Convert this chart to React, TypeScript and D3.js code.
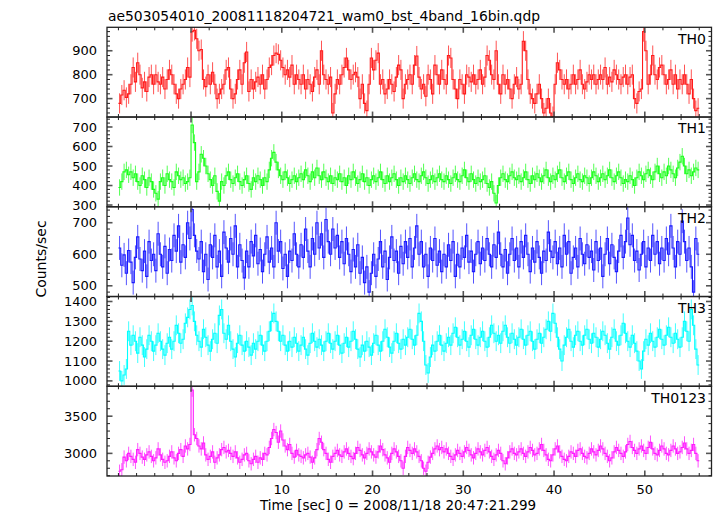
import React from 'react';
import * as d3 from 'd3';

const TITLE = 'ae503054010_20081118204721_wam0_bst_4band_16bin.qdp';
const X_LABEL = 'Time [sec] 0 = 2008/11/18 20:47:21.299';
const Y_LABEL = 'Counts/sec';
const T_START = -8;
const BIN = 0.25;
const X_MAJOR = [0, 10, 20, 30, 40, 50];

const TH0 = [
  680, 715, 735, 705, 720, 760, 830, 770, 850, 800, 745, 770, 730, 790, 800, 760,
  800, 770, 760, 790, 740, 780, 820, 800, 760, 720, 700, 740, 760, 780, 830, 790,
  980, 985, 950, 900, 905, 780, 750, 800, 760, 810, 760, 700, 720, 740, 760, 820,
  830, 740, 700, 720, 780, 820, 760, 850, 895, 730, 780, 740, 770, 790, 760, 800,
  740, 780, 830, 840, 880, 890, 885, 860, 830, 800, 820, 790, 840, 760, 800, 780,
  760, 800, 740, 780, 760, 730, 790, 820, 760, 900, 800, 780, 760, 790, 640, 720,
  780, 760, 800, 830, 870, 820, 780, 800, 810, 790, 700, 760, 680, 650, 760, 870,
  820, 860, 890, 760, 780, 720, 740, 780, 760, 730, 790, 840, 820, 700, 760, 780,
  800, 760, 840, 878, 790, 740, 760, 710, 800, 780, 720, 840, 800, 760, 820, 780,
  760, 880, 870, 780, 740, 700, 780, 760, 720, 800, 790, 770, 800, 760, 780, 820,
  760, 790, 880, 860, 800, 780, 900, 760, 720, 800, 760, 780, 740, 700, 760, 790,
  740, 760, 940, 900, 780, 720, 700, 680, 720, 760, 700, 640, 660, 700, 640, 625,
  760, 850, 820, 780, 760, 780, 740, 760, 800, 760, 780, 820, 760, 740, 770, 800,
  780, 800, 760, 780, 800, 780, 830, 760, 790, 770, 820, 800, 780, 760, 790, 800,
  760, 790, 800, 700, 680, 730, 740, 980, 900, 760, 800, 880, 800, 780, 830, 840,
  800, 760, 780, 820, 760, 800, 740, 780, 760, 800, 760, 720, 780, 700, 650, 660,
];

const TH1 = [
  390, 420, 470, 480, 455, 470, 440, 460, 420, 400, 450, 430, 390, 440, 420, 380,
  360, 330, 420, 440, 400, 460, 430, 420, 390, 470, 450, 430, 440, 410, 420, 440,
  710, 620, 420, 470, 560, 540, 500, 460, 430, 400, 450, 370, 320, 420, 400, 450,
  470, 430, 410, 440, 460, 420, 400, 430, 450, 410, 380, 440, 420, 450, 430, 400,
  440, 420, 480, 540, 570, 520, 480, 450, 430, 470, 440, 410, 430, 450, 420, 440,
  460, 430, 480, 450, 420, 470, 440, 490, 450, 430, 470, 440, 420, 450, 410, 440,
  430, 460, 420, 440, 400, 450, 430, 470, 440, 410, 430, 460, 420, 440, 400, 430,
  450, 420, 440, 470, 430, 410, 450, 420, 440, 460, 430, 400, 440, 420, 450, 430,
  410, 440, 460, 430, 420, 450, 470, 440, 410, 430, 450, 420, 440, 460, 430, 420,
  450, 430, 410, 440, 460, 430, 420, 450, 480, 440, 420, 460, 430, 410, 440, 420,
  430, 450, 410, 390, 420, 360, 310, 400, 440, 460, 430, 420, 450, 470, 440, 430,
  450, 420, 440, 470, 430, 410, 450, 430, 460, 440, 420, 450, 480, 440, 420, 450,
  430, 460, 480, 440, 420, 450, 470, 430, 410, 440, 460, 430, 420, 450, 440, 410,
  440, 470, 450, 420, 440, 460, 430, 450, 480, 440, 420, 450, 470, 440, 410, 430,
  420, 450, 430, 400, 440, 470, 450, 430, 460, 480, 450, 430, 470, 500, 460, 440,
  470, 450, 500, 480, 460, 440, 490, 520, 550, 500, 460, 480, 450, 470, 490, 480,
];

const TH2 = [
  620, 565, 598, 540, 612, 575, 510, 590, 655, 585, 548, 610, 530, 640, 580, 600,
  548, 665, 600, 560, 625, 540, 615, 580, 660, 610, 690, 575, 630, 590, 700, 650,
  742, 660, 610, 585, 640, 545, 600, 520, 630, 590, 660, 560, 610, 530, 670, 620,
  575, 650, 600, 690, 560, 630, 580, 525, 610, 560, 640, 595, 660, 570, 615, 545,
  600, 655, 575, 620, 560, 700, 610, 640, 555, 600, 530, 610, 580, 665, 600, 560,
  630, 590, 680, 610, 560, 650, 600, 700, 620, 665, 590, 710, 640, 600, 680, 620,
  660, 590, 640, 570, 650, 600, 545, 615, 560, 630, 540, 590, 510, 560, 480, 540,
  600, 530, 585, 640, 560, 610, 520, 590, 655, 580, 610, 540, 625, 570, 640, 590,
  650, 560, 620, 690, 600, 640, 560, 600, 530, 620, 580, 650, 565, 610, 545, 600,
  560, 630, 580, 640, 530, 600, 560, 620, 590, 660, 575, 610, 545, 600, 640, 570,
  620, 580, 650, 600, 560, 630, 590, 670, 600, 560, 615, 540, 600, 650, 580, 620,
  560, 640, 590, 660, 600, 545, 620, 575, 640, 590, 540, 610, 580, 670, 610, 590,
  640, 570, 620, 560, 660, 600, 640, 540, 590, 620, 560, 650, 600, 570, 630, 590,
  610, 550, 640, 580, 620, 530, 600, 650, 570, 630, 590, 545, 610, 660, 590, 640,
  715, 630, 660, 580, 610, 550, 600, 640, 560, 620, 580, 660, 600, 640, 570, 620,
  580, 650, 600, 690, 620, 560, 640, 600, 705, 640, 580, 620, 560, 480, 650, 600,
];

const TH3 = [
  1050, 1000, 1030, 1060, 1250, 1180, 1230, 1200, 1140, 1220, 1180, 1120, 1160, 1230, 1200, 1150,
  1180, 1240, 1200, 1160, 1130, 1190, 1220, 1160, 1200, 1280, 1240, 1190, 1210, 1290, 1320, 1360,
  1380, 1300, 1230, 1200, 1170, 1260, 1220, 1180, 1150, 1210, 1240, 1190, 1330, 1360, 1240, 1210,
  1280, 1200, 1160, 1120, 1190, 1230, 1180, 1150, 1200, 1170, 1130, 1190, 1160, 1200, 1230, 1180,
  1150, 1200, 1250, 1300, 1340, 1300, 1250, 1200, 1230, 1180, 1150, 1200, 1170, 1220, 1190, 1150,
  1180, 1220, 1160, 1130, 1190, 1240, 1200, 1170, 1210, 1180, 1150, 1200, 1240, 1190, 1160, 1200,
  1230, 1180, 1140, 1190, 1220, 1170, 1200, 1250, 1210, 1160, 1120, 1180, 1150, 1200, 1170, 1130,
  1190, 1230, 1180, 1150, 1200, 1260, 1220, 1170, 1140, 1200, 1240, 1190, 1160, 1210, 1180, 1220,
  1260, 1210, 1180, 1230, 1340, 1300, 1200, 1080, 1040, 1120, 1180, 1150, 1200, 1230, 1180, 1150,
  1190, 1220, 1180, 1240, 1270, 1220, 1180, 1210, 1250, 1200, 1170, 1230, 1260, 1210, 1180, 1220,
  1250, 1200, 1170, 1220, 1280, 1240, 1200, 1230, 1190, 1250, 1280, 1220, 1190, 1240, 1210, 1180,
  1220, 1260, 1210, 1180, 1230, 1250, 1200, 1160, 1210, 1240, 1190, 1220, 1260, 1300, 1250, 1340,
  1290, 1220, 1160, 1100, 1180, 1220, 1260, 1200, 1170, 1230, 1250, 1200, 1180, 1230, 1260, 1210,
  1190, 1240, 1220, 1170, 1210, 1250, 1230, 1190, 1160, 1220, 1260, 1200, 1180, 1230, 1290, 1240,
  1200, 1170, 1230, 1190, 1150, 1100, 1060, 1150, 1210, 1180, 1240, 1200, 1170, 1220, 1260, 1210,
  1180, 1230, 1270, 1220, 1190, 1240, 1210, 1170, 1220, 1300, 1250, 1200, 1360, 1280, 1160, 1080,
];

const TH0123 = [
  2760, 2780, 2950, 2900, 3000, 2960, 2920, 2880, 3050, 3000, 2950, 2920, 2980, 3020, 2960, 2900,
  2940, 3060, 2980, 2920, 2880, 2900, 2960, 3020, 2940, 2900, 3000, 3050, 2960, 3100, 3060, 3120,
  3850, 3250, 3200, 3100, 3060, 3140, 2980, 2920, 2960, 3020, 2880, 2940, 2980, 3050, 3080, 3020,
  3040, 3000, 2960, 3020, 2940, 2880, 2920, 2980, 3000, 2900, 2860, 2920, 2960, 2880, 2940, 2920,
  3000, 2980, 3080, 3200, 3320, 3280, 3150, 3300, 3180, 3100, 3050, 3120, 3000, 2950, 3040, 2980,
  2960, 2940, 2980, 3000, 2950, 2880, 2940, 3050, 3200, 3150, 3050, 3000, 2920, 2880, 2960, 3000,
  3040, 2980, 2960, 3020, 3060, 3000, 2960, 2930, 3000, 3080, 3040, 2980, 2940, 3000, 3060, 3020,
  2980, 2950, 3020, 3100, 3050, 2980, 2940, 2880, 3000, 3060, 3020, 2960, 2900, 2800, 2960, 3080,
  3040, 3000, 3060, 3020, 2960, 2900, 2800, 2760, 2880, 2950, 3000, 3060, 3100, 3050, 3080, 3020,
  3060, 3000, 2960, 2920, 2980, 3040, 3000, 2960, 3020, 3080, 3040, 2980, 2940, 3000, 3060, 3020,
  2980, 3040, 3080, 3020, 2960, 2920, 2980, 3040, 3000, 2900, 2860, 2940, 3020, 3060, 3000, 2980,
  3020, 3060, 3000, 2960, 3020, 3080, 3040, 2980, 3000, 3060, 3120, 3040, 2980, 2920, 2900, 2980,
  3060, 3100, 3020, 2960, 2920, 2900, 2960, 3020, 3000, 2960, 3040, 3060, 3000, 2960, 2940, 3000,
  3060, 3020, 2980, 3040, 3100, 3060, 3000, 2960, 2900, 2940, 3020, 3080, 3040, 3000, 2960, 3020,
  3120, 3160, 3080, 3040, 3000, 3060, 3100, 3040, 3000, 3080, 3150, 3060, 3000, 2980, 3040, 3100,
  3060, 3000, 2980, 3040, 3100, 3060, 3000, 3020, 3080, 3140, 3060, 3000, 3040, 3120, 3000, 2900,
];

const ERRORS = [42, 42, 38, 50, 90];
const NAMES = ['TH0', 'TH1', 'TH2', 'TH3', 'TH0123'];
const SERIES = [TH0, TH1, TH2, TH3, TH0123];
const Y_DOMAINS: [number, number][] = [[623, 998], [291, 751], [466, 750.5], [973, 1425], [2696, 3902]];
const Y_LABELS = [[700, 800, 900], [300, 400, 500, 600, 700], [500, 600, 700], [1000, 1100, 1200, 1300, 1400], [3000, 3500]];
const Y_MINOR = [20, 20, 20, 20, 100];
const COLORS = ['#ff1a1a', '#1aff1a', '#1a1aff', '#00ffff', '#ff1aff'];

const W = 717, H = 516;
const LEFT = 107, RIGHT = 711.5, TOP = 27.3, PH = 89.74;
const FONT = "'DejaVu Sans', sans-serif";

export default function App() {
  const x = d3.scaleLinear().domain([-9.26, 57.35]).range([LEFT, RIGHT]);
  const xMinor = d3.range(-8, 57, 2);

  const panels = SERIES.map((vals, k) => {
    const top = TOP + k * PH;
    const bottom = top + PH;
    const y = d3.scaleLinear().domain(Y_DOMAINS[k]).range([bottom, top]);
    const err = ERRORS[k];
    const step = d3.path();
    const bars = d3.path();
    vals.forEach((v, i) => {
      const t0 = T_START + i * BIN;
      const tc = t0 + BIN / 2;
      if (i === 0) step.moveTo(x(t0), y(v));
      else step.lineTo(x(t0), y(v));
      step.lineTo(x(t0 + BIN), y(v));
      bars.moveTo(x(tc), y(v - err));
      bars.lineTo(x(tc), y(v + err));
    });
    const [d0, d1] = Y_DOMAINS[k];
    const minors = d3.range(Math.ceil(d0 / Y_MINOR[k]) * Y_MINOR[k], d1, Y_MINOR[k]);
    return { k, top, bottom, y, step: step.toString(), bars: bars.toString(), minors };
  });

  return (
    <svg width={W} height={H} style={{ position: 'absolute', left: 0, top: 0, background: '#fff' }}>
      <defs>
        {panels.map((pn) => (
          <clipPath id={`clip${pn.k}`} key={pn.k}>
            <rect x={LEFT} y={pn.top} width={RIGHT - LEFT} height={PH} />
          </clipPath>
        ))}
      </defs>
      <text x={108} y={20.5} fontFamily={FONT} fontSize={14} textLength={432} lengthAdjust="spacingAndGlyphs" fill="#000">{TITLE}</text>
      {panels.map((pn) => (
        <g key={pn.k}>
          <g clipPath={`url(#clip${pn.k})`} fill="none" stroke={COLORS[pn.k]}>
            <path d={pn.bars} strokeWidth={1} strokeOpacity={0.75} />
            <path d={pn.step} strokeWidth={1.1} />
          </g>
          {xMinor.map((t) => {
            const major = X_MAJOR.includes(t);
            const len = major ? 5.5 : 3;
            return (
              <g key={t} stroke={major ? '#555' : '#222'} strokeWidth={major ? 1.6 : 1}>
                <line x1={x(t)} x2={x(t)} y1={pn.top} y2={pn.top + len} />
                <line x1={x(t)} x2={x(t)} y1={pn.bottom} y2={pn.bottom - len} />
              </g>
            );
          })}
          {pn.minors.map((v) => {
            const major = Y_LABELS[pn.k].includes(v);
            const len = major ? 5.5 : 3;
            return (
              <g key={v} stroke={major ? '#555' : '#222'} strokeWidth={major ? 1.6 : 1}>
                <line x1={LEFT} x2={LEFT + len} y1={pn.y(v)} y2={pn.y(v)} />
                <line x1={RIGHT} x2={RIGHT - len} y1={pn.y(v)} y2={pn.y(v)} />
              </g>
            );
          })}
          {Y_LABELS[pn.k].map((v) => (
            <text key={v} x={97} y={pn.y(v)} dy="0.35em" textAnchor="end" fontFamily={FONT} fontSize={13} fill="#000">{v}</text>
          ))}
          <text x={706} y={pn.top + 16.3} textAnchor="end" fontFamily={FONT} fontSize={14} fill="#000">{NAMES[pn.k]}</text>
          <rect x={LEFT} y={pn.top} width={RIGHT - LEFT} height={PH} fill="none" stroke="#222" strokeWidth={1.3} />
        </g>
      ))}
      {X_MAJOR.map((t) => (
        <text key={t} x={x(t)} y={493.5} textAnchor="middle" fontFamily={FONT} fontSize={13} fill="#000">{t}</text>
      ))}
      <text x={398} y={510} textAnchor="middle" fontFamily={FONT} fontSize={13.5} fill="#000">{X_LABEL}</text>
      <text transform="translate(46,259) rotate(-90)" textAnchor="middle" fontFamily={FONT} fontSize={14} fill="#000">{Y_LABEL}</text>
    </svg>
  );
}
